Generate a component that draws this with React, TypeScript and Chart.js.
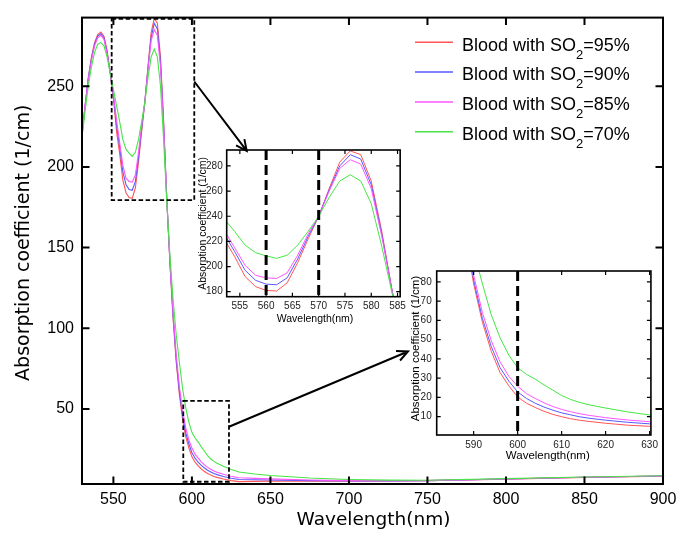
import React, { useEffect, useRef } from "react";
import { Chart, registerables } from "chart.js";
Chart.register(...registerables);

// ---------------- data ----------------
const wavelengths = [
  530, 532, 534, 536, 538, 540, 542, 544, 546, 548, 550, 552, 554, 556, 558, 560, 562, 564,
  566, 568, 570, 572, 574, 576, 578, 580, 582, 584, 586, 588, 590, 592, 594, 596, 598, 600,
  602, 604, 606, 608, 610, 612, 614, 616, 620, 625, 630, 640, 650, 675, 700, 725, 750, 800,
  850, 900,
];
const so2_95 = [
  220, 238, 255, 268, 277, 282, 283.5, 281, 272, 258, 243, 222, 208, 192, 184, 181, 180.5, 187,
  203, 222, 240, 262, 283, 292, 289, 268, 228, 180, 140, 106, 79, 59, 44, 33, 26, 20.3,
  17, 14.8, 12.8, 11.2, 10, 9, 8.2, 7.6, 6.6, 5.6, 5.0, 5.1, 5.3, 5.2, 5.3, 5.4, 5.6, 6.5,
  7.6, 8.4,
];
const so2_90 = [
  220, 238, 255, 267, 276, 281, 282.5, 280, 271, 258, 244, 226, 212, 197, 189, 186, 185.5, 191,
  206, 224, 240, 261, 280, 289, 285.5, 265, 226, 180, 141, 108, 81, 61, 46.5, 35.5, 28.5, 22.9,
  19.5, 17, 15, 13.4, 12, 11, 10, 9.3, 8.2, 7.1, 6.3, 6.1, 6.0, 5.6, 5.4, 5.4, 5.6, 6.6,
  7.7, 8.5,
];
const so2_85 = [
  220, 238, 254, 266, 275, 280, 281.5, 279, 270, 258, 245, 229, 215, 201, 193, 191, 190.5, 195,
  209, 226, 240, 260, 278, 285, 281.5, 262, 224, 180, 142, 110, 83.5, 64, 49.5, 38.5, 31, 25.8,
  22, 19.5, 17.2, 15.3, 13.8, 12.6, 11.6, 10.8, 9.5, 8.3, 7.4, 7.0, 6.7, 6.0, 5.6, 5.5, 5.6, 6.6,
  7.7, 8.5,
];
const so2_70 = [
  218, 235, 250, 262, 271, 276, 277, 275, 268, 258, 248, 238, 228, 217, 211, 208.5, 206.5, 209,
  217, 228, 240, 255, 268, 273, 268, 250, 216, 178, 145, 118, 96, 79, 63, 51, 42, 35.5,
  32, 29.5, 26.5, 23.8, 21, 19, 17.5, 16.3, 14.5, 12.5, 10.9, 9.7, 8.8, 7.2, 6.3, 5.9, 5.8, 6.8,
  7.8, 8.6,
];
const seriesValues = [so2_95, so2_90, so2_85, so2_70];
const seriesLevels = ["95%", "90%", "85%", "70%"];
const seriesColors = ["rgb(255,85,85)", "rgb(90,90,255)", "rgb(255,85,255)", "rgb(70,230,70)"];

const mainXTicks = [550, 600, 650, 700, 750, 800, 850, 900];
const mainYTicks = [50, 100, 150, 200, 250];
const inset1XTicks = [555, 560, 565, 570, 575, 580, 585];
const inset1YTicks = [180, 200, 220, 240, 260, 280];
const inset2XTicks = [590, 600, 610, 620, 630];
const inset2YTicks = [10, 20, 30, 40, 50, 60, 70, 80];
const inset1Markers = [560, 570];
const inset2Markers = [600];

// zoom boxes and arrows, in main-chart data units
const zoomBoxes = [
  { x0: 548.9, x1: 601.5, y0: 179.4, y1: 291.7 },
  { x0: 594.5, x1: 623.6, y0: 4.9, y1: 55 },
];
const zoomArrows = [
  { x0: 601.5, y0: 252.9, x1: 634.9, y1: 209.9 },
  { x0: 623.6, y0: 39.0, x1: 737.6, y1: 85.6 },
];

const X_TITLE = "Wavelength(nm)";
const Y_TITLE = "Absorption coefficient (1/cm)";

// ---------------- helpers ----------------
function buildDatasets(width: number) {
  return seriesValues.map((vals, i) => ({
    label: "Blood with SO2=" + seriesLevels[i],
    data: wavelengths.map((w, j) => ({ x: w, y: vals[j] })),
    borderColor: seriesColors[i],
    backgroundColor: seriesColors[i],
    borderWidth: width,
    pointRadius: 0,
    tension: 0,
    fill: false,
    order: 3 - i,
  }));
}

type Cfg = {
  id: string;
  canvas: { left: number; top: number; width: number; height: number };
  plot: { left: number; top: number; right: number; bottom: number };
  xMin: number; xMax: number; yMin: number; yMax: number;
  xTicks: number[]; yTicks: number[];
  tickFont: { family: string; size: number };
  tickColor: string;
  xPad: number; yPad: number;
  tickLen: number; tickWidth: number; frameWidth: number;
  lineWidth: number;
  markers: number[];
  boxes: typeof zoomBoxes;
  arrows: typeof zoomArrows;
  titleFontX: string; titleFontY: string;
  xTitleDx: number; xTitleDy: number; yTitleDx: number; yTitleDy: number;
  legend: boolean;
};

function overlay(cfg: Cfg) {
  return {
    id: "overlay_" + cfg.id,
    afterDatasetsDraw(chart: any) {
      const { ctx, chartArea: a } = chart;
      const xs = chart.scales.x;
      const ys = chart.scales.y;
      ctx.save();
      ctx.strokeStyle = "#000";
      ctx.fillStyle = "#000";
      // dashed vertical markers
      ctx.lineWidth = 3;
      ctx.setLineDash([10, 5]);
      for (const m of cfg.markers) {
        const p = xs.getPixelForValue(m);
        ctx.beginPath();
        ctx.moveTo(p, a.top);
        ctx.lineTo(p, a.bottom);
        ctx.stroke();
      }
      // zoom boxes
      ctx.lineWidth = 1.8;
      ctx.setLineDash([4.5, 2.5]);
      for (const b of cfg.boxes) {
        const x0 = xs.getPixelForValue(b.x0);
        const x1 = xs.getPixelForValue(b.x1);
        const y0 = ys.getPixelForValue(b.y0);
        const y1 = ys.getPixelForValue(b.y1);
        ctx.strokeRect(x0, y1, x1 - x0, y0 - y1);
      }
      ctx.setLineDash([]);
      // arrows
      ctx.lineWidth = 2;
      for (const ar of cfg.arrows) {
        const x0 = xs.getPixelForValue(ar.x0);
        const y0 = ys.getPixelForValue(ar.y0);
        const x1 = xs.getPixelForValue(ar.x1);
        const y1 = ys.getPixelForValue(ar.y1);
        const ang = Math.atan2(y1 - y0, x1 - x0);
        ctx.beginPath();
        ctx.moveTo(x0, y0);
        ctx.lineTo(x1, y1);
        const hl = 12, ha = 0.45;
        ctx.moveTo(x1 - hl * Math.cos(ang - ha), y1 - hl * Math.sin(ang - ha));
        ctx.lineTo(x1, y1);
        ctx.lineTo(x1 - hl * Math.cos(ang + ha), y1 - hl * Math.sin(ang + ha));
        ctx.stroke();
      }
      // frame
      ctx.lineWidth = cfg.frameWidth;
      ctx.strokeRect(a.left, a.top, a.right - a.left, a.bottom - a.top);
      // inward ticks on all four sides
      ctx.lineWidth = cfg.tickWidth;
      ctx.beginPath();
      const L = cfg.tickLen;
      for (const t of xs.ticks) {
        const p = xs.getPixelForValue(t.value);
        if (p <= a.left + 1 || p >= a.right - 1) continue;
        ctx.moveTo(p, a.bottom);
        ctx.lineTo(p, a.bottom - L);
        ctx.moveTo(p, a.top);
        ctx.lineTo(p, a.top + L);
      }
      for (const t of ys.ticks) {
        const p = ys.getPixelForValue(t.value);
        if (p <= a.top + 1 || p >= a.bottom - 1) continue;
        ctx.moveTo(a.left, p);
        ctx.lineTo(a.left + L, p);
        ctx.moveTo(a.right, p);
        ctx.lineTo(a.right - L, p);
      }
      ctx.stroke();
      // axis titles
      ctx.textAlign = "center";
      ctx.textBaseline = "middle";
      ctx.font = cfg.titleFontX;
      ctx.fillText(X_TITLE, (a.left + a.right) / 2 + cfg.xTitleDx, a.bottom + cfg.xTitleDy);
      ctx.save();
      ctx.font = cfg.titleFontY;
      ctx.translate(a.left - cfg.yTitleDx, (a.top + a.bottom) / 2 + cfg.yTitleDy);
      ctx.rotate(-Math.PI / 2);
      ctx.fillText(Y_TITLE, 0, 0);
      ctx.restore();
      // legend
      if (cfg.legend) {
        ctx.textAlign = "left";
        ctx.textBaseline = "alphabetic";
        for (let i = 0; i < seriesLevels.length; i++) {
          const y = a.top + 24.7 + i * 29.8;
          ctx.strokeStyle = seriesColors[i];
          ctx.lineWidth = 1.5;
          ctx.beginPath();
          ctx.moveTo(a.left + 333, y);
          ctx.lineTo(a.left + 371, y);
          ctx.stroke();
          const base = y + 8.3;
          let tx = a.left + 380;
          ctx.fillStyle = "#000";
          ctx.font = '18px "Liberation Sans", Arial, sans-serif';
          const pre = "Blood with SO";
          ctx.fillText(pre, tx, base);
          tx += ctx.measureText(pre).width;
          ctx.font = '13px "Liberation Sans", Arial, sans-serif';
          ctx.fillText("2", tx, base + 8);
          tx += ctx.measureText("2").width;
          ctx.font = '18px "Liberation Sans", Arial, sans-serif';
          ctx.fillText("=" + seriesLevels[i], tx, base);
        }
      }
      ctx.restore();
    },
  };
}

function makeConfig(cfg: Cfg): any {
  const c = cfg.canvas;
  const p = cfg.plot;
  return {
    type: "line",
    data: { datasets: buildDatasets(cfg.lineWidth) },
    options: {
      responsive: false,
      maintainAspectRatio: false,
      animation: false,
      devicePixelRatio: 1,
      events: [],
      layout: {
        padding: {
          left: 0,
          top: p.top - c.top,
          right: c.left + c.width - p.right,
          bottom: 0,
        },
      },
      plugins: { legend: { display: false }, tooltip: { enabled: false }, title: { display: false } },
      scales: {
        x: {
          type: "linear",
          min: cfg.xMin,
          max: cfg.xMax,
          afterBuildTicks: (s: any) => {
            s.ticks = cfg.xTicks.map((v) => ({ value: v }));
          },
          afterFit: (s: any) => {
            s.height = c.top + c.height - p.bottom;
          },
          grid: { display: false, drawTicks: false },
          border: { display: false },
          ticks: {
            font: cfg.tickFont,
            color: cfg.tickColor,
            padding: cfg.xPad,
            maxRotation: 0,
            autoSkip: false,
            callback: (v: any) => String(v),
          },
        },
        y: {
          type: "linear",
          min: cfg.yMin,
          max: cfg.yMax,
          afterBuildTicks: (s: any) => {
            s.ticks = cfg.yTicks.map((v) => ({ value: v }));
          },
          afterFit: (s: any) => {
            s.width = p.left - c.left;
          },
          grid: { display: false, drawTicks: false },
          border: { display: false },
          ticks: {
            font: cfg.tickFont,
            color: cfg.tickColor,
            padding: cfg.yPad,
            autoSkip: false,
            callback: (v: any) => String(v),
          },
        },
      },
    },
    plugins: [overlay(cfg)],
  };
}

const mainCfg: Cfg = {
  id: "main",
  canvas: { left: 0, top: 0, width: 692, height: 536 },
  plot: { left: 82, top: 12, right: 663, bottom: 484 },
  xMin: 530, xMax: 900, yMin: 3.5, yMax: 292.5,
  xTicks: mainXTicks, yTicks: mainYTicks,
  tickFont: { family: '"Liberation Sans", Arial, sans-serif', size: 16 },
  tickColor: "#000",
  xPad: 6, yPad: 8,
  tickLen: 7.5, tickWidth: 2, frameWidth: 2,
  lineWidth: 1.1,
  markers: [],
  boxes: zoomBoxes,
  arrows: zoomArrows,
  titleFontX: '18.5px "DejaVu Sans", sans-serif',
  titleFontY: '19px "DejaVu Sans", sans-serif',
  xTitleDx: 1, xTitleDy: 36, yTitleDx: 58, yTitleDy: -8,
  legend: true,
};

const inset1Cfg: Cfg = {
  id: "inset1",
  canvas: { left: 190, top: 140, width: 220, height: 190 },
  plot: { left: 226.7, top: 150, right: 402, bottom: 296.7 },
  xMin: 552.5, xMax: 585.5, yMin: 176, yMax: 292.7,
  xTicks: inset1XTicks, yTicks: inset1YTicks,
  tickFont: { family: '"Liberation Sans", Arial, sans-serif', size: 10 },
  tickColor: "#222",
  xPad: 4, yPad: 4,
  tickLen: 4, tickWidth: 1.2, frameWidth: 1.6,
  lineWidth: 1,
  markers: inset1Markers,
  boxes: [],
  arrows: [],
  titleFontX: '10.5px "Liberation Sans", Arial, sans-serif',
  titleFontY: '10.5px "Liberation Sans", Arial, sans-serif',
  xTitleDx: 1.6, xTitleDy: 22.3, yTitleDx: 23.2, yTitleDy: 0,
  legend: false,
};

const inset2Cfg: Cfg = {
  id: "inset2",
  canvas: { left: 400, top: 260, width: 262, height: 208 },
  plot: { left: 436.7, top: 270, right: 653, bottom: 435 },
  xMin: 581.6, xMax: 630.3, yMin: 0.5, yMax: 85.7,
  xTicks: inset2XTicks, yTicks: inset2YTicks,
  tickFont: { family: '"Liberation Sans", Arial, sans-serif', size: 10 },
  tickColor: "#222",
  xPad: 4, yPad: 5,
  tickLen: 4, tickWidth: 1.2, frameWidth: 1.6,
  lineWidth: 1,
  markers: inset2Markers,
  boxes: [],
  arrows: [],
  titleFontX: '11.5px "Liberation Sans", Arial, sans-serif',
  titleFontY: '11.5px "Liberation Sans", Arial, sans-serif',
  xTitleDx: 4, xTitleDy: 21, yTitleDx: 21.2, yTitleDy: -4.5,
  legend: false,
};

function ChartCanvas({ cfg }: { cfg: Cfg }) {
  const ref = useRef<HTMLCanvasElement>(null);
  useEffect(() => {
    const chart = new Chart(ref.current as HTMLCanvasElement, makeConfig(cfg));
    return () => chart.destroy();
  }, [cfg]);
  const c = cfg.canvas;
  return (
    <canvas
      ref={ref}
      width={c.width}
      height={c.height}
      style={{ position: "absolute", left: c.left, top: c.top, width: c.width, height: c.height }}
    />
  );
}

export default function App() {
  return (
    <div style={{ position: "absolute", left: 0, top: 0, width: 692, height: 536, background: "#fff" }}>
      <ChartCanvas cfg={mainCfg} />
      <ChartCanvas cfg={inset2Cfg} />
      <ChartCanvas cfg={inset1Cfg} />
    </div>
  );
}
